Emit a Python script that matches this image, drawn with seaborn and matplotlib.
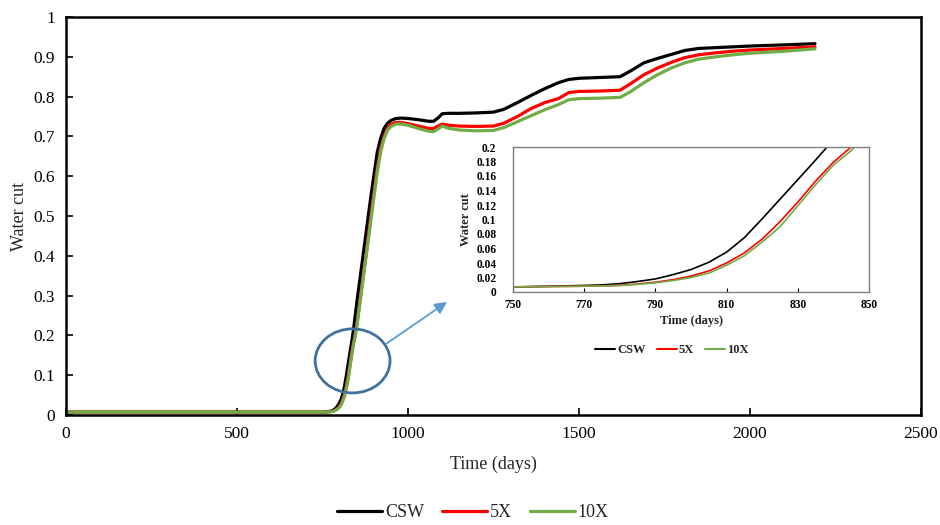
import numpy as np
import pandas as pd
import matplotlib
matplotlib.use("Agg")
import matplotlib.pyplot as plt
from matplotlib.patches import Ellipse
import seaborn as sns

# ---------------- data ----------------
time_days = [0, 500, 740, 750, 760, 770, 775, 780, 785, 790, 795, 800, 805, 810, 815,
             820, 825, 830, 835, 840, 845, 850, 860, 870, 880, 890, 900, 910, 920,
             930, 940, 950, 965, 980, 1000, 1030, 1060, 1075, 1090, 1100, 1120, 1150,
             1200, 1250, 1280, 1320, 1360, 1400, 1440, 1470, 1500, 1560, 1620, 1650,
             1690, 1730, 1770, 1810, 1850, 1900, 1950, 2000, 2100, 2190]

csw = [0.007, 0.007, 0.007, 0.007, 0.008, 0.009, 0.0098, 0.0115, 0.0145, 0.018, 0.024,
       0.031, 0.041, 0.055, 0.075, 0.101, 0.128, 0.155, 0.182, 0.21, 0.245, 0.28,
       0.345, 0.41, 0.475, 0.54, 0.60, 0.66, 0.695, 0.72, 0.733, 0.740, 0.745, 0.746,
       0.745, 0.742, 0.738, 0.738, 0.748, 0.757, 0.758, 0.758, 0.759, 0.761, 0.768,
       0.785, 0.803, 0.820, 0.835, 0.843, 0.846, 0.848, 0.850, 0.864, 0.885, 0.896,
       0.906, 0.916, 0.921, 0.923, 0.925, 0.927, 0.930, 0.933]

x5 = [0.007, 0.007, 0.007, 0.007, 0.0075, 0.008, 0.0085, 0.0092, 0.011, 0.0135, 0.017,
      0.022, 0.029, 0.040, 0.054, 0.073, 0.097, 0.124, 0.153, 0.179, 0.200, 0.225,
      0.29, 0.355, 0.42, 0.49, 0.555, 0.62, 0.67, 0.70, 0.72, 0.73, 0.735, 0.735,
      0.732, 0.726, 0.720, 0.720, 0.727, 0.731, 0.728, 0.726, 0.725, 0.726, 0.733,
      0.750, 0.770, 0.785, 0.795, 0.810, 0.813, 0.814, 0.816, 0.832, 0.855, 0.872,
      0.886, 0.898, 0.905, 0.910, 0.914, 0.917, 0.921, 0.925]

x10 = [0.007, 0.007, 0.007, 0.007, 0.0075, 0.008, 0.0085, 0.009, 0.0105, 0.0127, 0.0158,
       0.020, 0.026, 0.037, 0.050, 0.069, 0.090, 0.119, 0.148, 0.175, 0.195, 0.220,
       0.285, 0.35, 0.415, 0.48, 0.545, 0.61, 0.66, 0.695, 0.715, 0.725, 0.731,
       0.731, 0.728, 0.720, 0.713, 0.712, 0.720, 0.726, 0.720, 0.716, 0.714, 0.715,
       0.722, 0.737, 0.752, 0.767, 0.780, 0.792, 0.795, 0.796, 0.798, 0.812, 0.835,
       0.855, 0.872, 0.885, 0.894, 0.900, 0.905, 0.909, 0.914, 0.920]

series_names = ["CSW", "5X", "10X"]
series_colors = ["#000000", "#FF0000", "#70AD47"]
main_xticks = [0, 500, 1000, 1500, 2000, 2500]
main_yticks = [0, 0.1, 0.2, 0.3, 0.4, 0.5, 0.6, 0.7, 0.8, 0.9, 1]
inset_xticks = [750, 770, 790, 810, 830, 850]
inset_yticks = [0, 0.02, 0.04, 0.06, 0.08, 0.1, 0.12, 0.14, 0.16, 0.18, 0.2]

df = pd.concat([
    pd.DataFrame({"Time": time_days, "Water cut": vals, "Case": name})
    for name, vals in zip(series_names, [csw, x5, x10])
], ignore_index=True)

# ---------------- style ----------------
sns.set_style("ticks")
plt.rcParams["font.family"] = ["Liberation Serif", "DejaVu Serif"]
palette = dict(zip(series_names, series_colors))

fig = plt.figure(figsize=(9.4, 5.25), dpi=100)
ax = fig.add_axes([66 / 940, 1 - 415 / 525, 855 / 940, 398 / 525])

sns.lineplot(data=df, x="Time", y="Water cut", hue="Case", hue_order=series_names,
             palette=palette, linewidth=2.3, ax=ax, legend=False, sort=False)

ax.set_xlim(0, 2500)
ax.set_ylim(0, 1)
ax.set_xticks(main_xticks)
ax.set_yticks(main_yticks)
ax.set_xticklabels([str(v) for v in main_xticks])
ax.set_yticklabels([f"{v:g}" for v in main_yticks])
ax.tick_params(direction="in", length=5, width=1.2, labelsize=12.5, pad=8, colors="black")
ax.set_xlabel("Time (days)", fontsize=13, labelpad=10)
ax.set_ylabel("Water cut", fontsize=13, labelpad=4)
for sp in ax.spines.values():
    sp.set_visible(True)
    sp.set_linewidth(1.8)
    sp.set_color("black")

# highlight ellipse and arrow
ell = Ellipse((838, 0.136), width=219, height=0.161, fill=False,
              edgecolor="#41719C", linewidth=2.0, zorder=5)
ax.add_patch(ell)
ax.annotate("", xy=(1114, 0.284), xytext=(938, 0.180),
            arrowprops=dict(arrowstyle="-|>", color="#5B9BD5", lw=1.3,
                            mutation_scale=18, shrinkA=0, shrinkB=0))

# main legend
handles = [plt.Line2D([], [], color=c, lw=2.3) for c in series_colors]
fig.legend(handles, series_names, loc="center", bbox_to_anchor=(0.503, 0.023),
           ncol=3, frameon=False, fontsize=13, handlelength=2.5, columnspacing=1.0,
           handletextpad=0.15)

# ---------------- inset ----------------
axi = fig.add_axes([513 / 940, 1 - 292 / 525, 356 / 940, 145 / 525])
sns.lineplot(data=df, x="Time", y="Water cut", hue="Case", hue_order=series_names,
             palette=palette, linewidth=1.2, ax=axi, legend=False, sort=False)
axi.set_xlim(750, 850)
axi.set_ylim(0, 0.2)
axi.set_xticks(inset_xticks)
axi.set_yticks(inset_yticks)
axi.set_xticklabels([str(v) for v in inset_xticks], fontweight="bold")
axi.set_yticklabels([f"{v:g}" for v in inset_yticks], fontweight="bold")
axi.tick_params(direction="in", length=3, width=0.8, labelsize=8.3, pad=5, colors="black")
axi.tick_params(axis="y", length=0, pad=12)
axi.set_xlabel("Time (days)", fontsize=9, fontweight="bold", labelpad=3)
axi.set_ylabel("Water cut", fontsize=9, fontweight="bold")
axi.yaxis.set_label_coords(-(513 - 472) / 356, 0.5)
for sp in axi.spines.values():
    sp.set_visible(True)
    sp.set_linewidth(1.0)
    sp.set_color("#808080")
ih = [plt.Line2D([], [], color=c, lw=1.5) for c in series_colors]
axi.legend(ih, series_names, loc="center", bbox_to_anchor=(0.447, -0.4),
           ncol=3, frameon=False, prop={"weight": "bold", "size": 9},
           handlelength=1.6, columnspacing=0.9, handletextpad=0.15)

fig.savefig("out.png", dpi=100)
